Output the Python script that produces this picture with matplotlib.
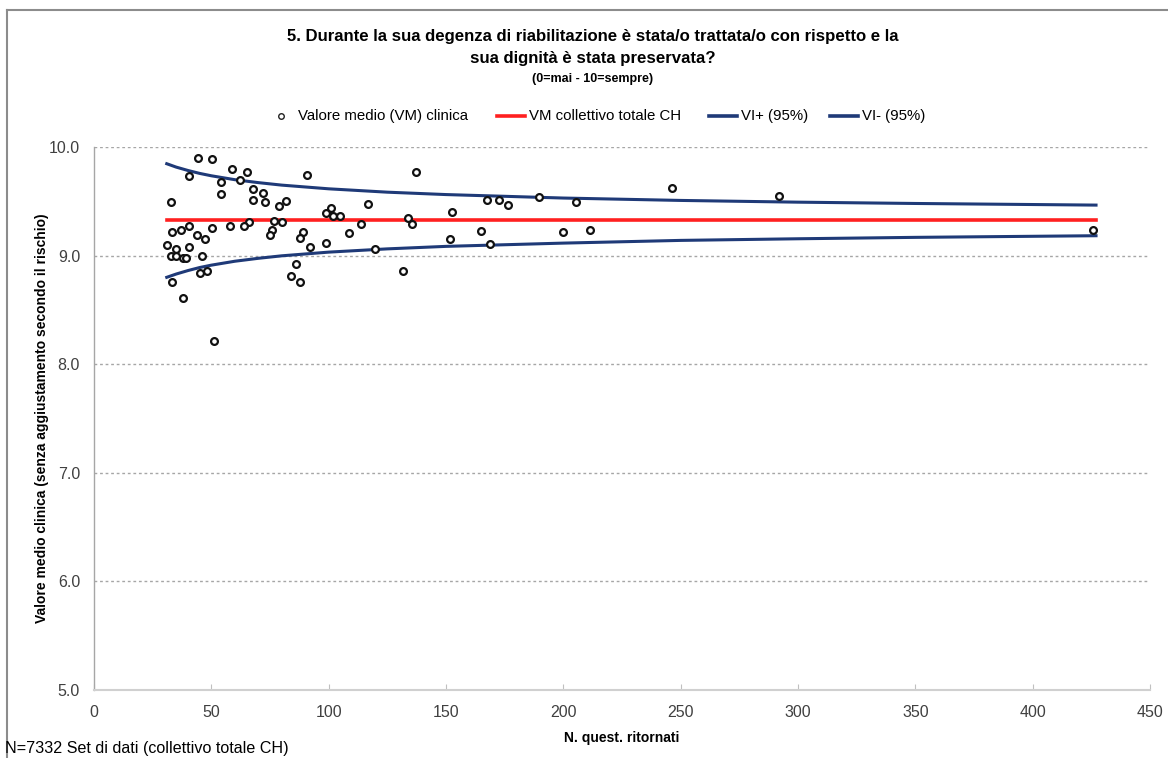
import matplotlib
matplotlib.use("Agg")
import matplotlib.pyplot as plt
from matplotlib.lines import Line2D

# ---- data ----
n_returned = [44.2, 50.1, 40.3, 58.8, 65.0, 54.0, 62.1, 67.9, 71.9, 54.0,
              32.9, 67.9, 72.9, 78.8, 81.9, 76.7, 80.1, 66.2, 64.0, 57.8,
              50.1, 40.3, 36.9, 33.1, 76.0, 75.0, 44.0, 47.2, 31.1, 40.3,
              35.1, 32.9, 35.1, 38.1, 39.3, 46.1, 45.2, 48.1, 33.1, 38.1,
              51.0, 90.9, 137.3, 88.9, 87.9, 91.9, 98.9, 101.0, 101.8, 104.8,
              99.0, 108.6, 113.6, 116.6, 119.9, 86.1, 83.9, 87.9, 131.7, 133.6,
              135.6, 152.5, 151.5, 167.6, 172.4, 176.4, 189.5, 205.5, 246.3, 292.0,
              164.8, 168.6, 199.7, 211.5, 425.7]
clinic_mean = [9.896, 9.887, 9.733, 9.80, 9.773, 9.68, 9.70, 9.614, 9.58, 9.565,
               9.49, 9.51, 9.497, 9.455, 9.503, 9.32, 9.31, 9.31, 9.27, 9.276,
               9.25, 9.27, 9.24, 9.22, 9.24, 9.19, 9.19, 9.15, 9.10, 9.08,
               9.06, 9.00, 9.00, 8.98, 8.98, 9.00, 8.84, 8.856, 8.76, 8.61,
               8.21, 9.745, 9.77, 9.22, 9.16, 9.08, 9.39, 9.44, 9.365, 9.365,
               9.12, 9.21, 9.294, 9.476, 9.06, 8.92, 8.81, 8.76, 8.856, 9.344,
               9.294, 9.405, 9.15, 9.515, 9.515, 9.47, 9.54, 9.497, 9.626, 9.546,
               9.227, 9.11, 9.22, 9.236, 9.236]

total_mean = 9.325
total_range = [31, 427]

band_n = [31, 35, 40, 45, 50, 60, 70, 80, 100, 125, 150, 200, 250, 300, 350, 427]
band_upper = [9.846, 9.815, 9.784, 9.757, 9.735, 9.699, 9.672, 9.649, 9.615, 9.584,
              9.562, 9.530, 9.508, 9.492, 9.480, 9.465]
band_lower = [8.800, 8.830, 8.862, 8.890, 8.912, 8.948, 8.975, 8.998, 9.032, 9.062,
              9.085, 9.115, 9.140, 9.155, 9.168, 9.183]

x_ticks = [0, 50, 100, 150, 200, 250, 300, 350, 400, 450]
y_ticks = [5.0, 6.0, 7.0, 8.0, 9.0, 10.0]

title_l1 = "5. Durante la sua degenza di riabilitazione è stata/o trattata/o con rispetto e la"
title_l2 = "sua dignità è stata preservata?"
title_l3 = "(0=mai - 10=sempre)"
legend_labels = ["Valore medio (VM) clinica", "VM collettivo totale CH", "VI+ (95%)", "VI- (95%)"]
x_label = "N. quest. ritornati"
y_label = "Valore medio clinica (senza aggiustamento secondo il rischio)"
footer = "N=7332 Set di dati (collettivo totale CH)"

# ---- style ----
FONT = ['Liberation Sans', 'DejaVu Sans']
plt.rcParams['font.family'] = FONT
TICK = '#404040'
NAVY = '#1f3a78'
RED = '#ff2020'

W, H = 1168, 758
fig = plt.figure(figsize=(W / 100, H / 100), dpi=100)
fig.patch.set_facecolor('white')

# outer border
fig.add_artist(Line2D([7 / W, 7 / W], [0, 1 - 10 / H], color='#8c8c8c', lw=1.5,
                      transform=fig.transFigure))
fig.add_artist(Line2D([7 / W, 1], [1 - 10 / H, 1 - 10 / H], color='#8c8c8c', lw=1.5,
                      transform=fig.transFigure))

ax = fig.add_axes([94 / W, 1 - 690 / H, (1150 - 94) / W, (690 - 147) / H])
ax.set_xlim(0, 450)
ax.set_ylim(5.0, 10.0)

for yv in y_ticks[1:]:
    ax.axhline(yv, color='#a6a6a6', lw=1.0, ls=(0, (2, 2)), zorder=1)

ax.plot(band_n, band_upper, color=NAVY, lw=2.2, zorder=3)
ax.plot(band_n, band_lower, color=NAVY, lw=2.2, zorder=3)
ax.plot(total_range, [total_mean, total_mean], color=RED, lw=2.6, zorder=3)
ax.scatter(n_returned, clinic_mean, s=24, facecolors='white', edgecolors='#111111',
           linewidths=1.6, zorder=4)

for s in ['top', 'right']:
    ax.spines[s].set_visible(False)
ax.spines['left'].set_color('#a6a6a6')
ax.spines['bottom'].set_color('#d0d0d0')
ax.spines['left'].set_linewidth(1.0)
ax.spines['bottom'].set_linewidth(1.5)

ax.set_xticks(x_ticks)
ax.set_xticklabels([str(v) for v in x_ticks])
ax.set_yticks(y_ticks)
ax.set_yticklabels([f"{v:.1f}" for v in y_ticks])
ax.tick_params(axis='x', direction='in', length=4, color='#c0c0c0', labelsize=11.5,
               labelcolor=TICK, pad=11)
ax.tick_params(axis='y', length=0, labelsize=11.5, labelcolor=TICK, pad=10)

ax.set_xlabel(x_label, fontsize=10, fontweight='bold', labelpad=8)
ax.set_ylabel(y_label, fontsize=10, fontweight='bold', labelpad=0)

# titles
fig.text(593 / W, 1 - 36 / H, title_l1, ha='center', va='center', fontsize=12.1,
         fontweight='bold')
fig.text(593 / W, 1 - 59 / H, title_l2, ha='center', va='center', fontsize=12.1,
         fontweight='bold')
fig.text(593 / W, 1 - 79 / H, title_l3, ha='center', va='center', fontsize=9,
         fontweight='bold')

# legend (manual placement to match)
ly = 1 - 116 / H
fig.add_artist(Line2D([281 / W], [ly], marker='o', ms=4, mfc='white', mec='#222222',
                      mew=1.0, transform=fig.transFigure))
fig.text(298 / W, ly, legend_labels[0], ha='left', va='center', fontsize=10.8)
fig.add_artist(Line2D([497 / W, 525 / W], [ly, ly], color=RED, lw=2.6,
                      transform=fig.transFigure))
fig.text(529 / W, ly, legend_labels[1], ha='left', va='center', fontsize=10.8)
fig.add_artist(Line2D([709 / W, 737 / W], [ly, ly], color=NAVY, lw=2.6,
                      transform=fig.transFigure))
fig.text(741 / W, ly, legend_labels[2], ha='left', va='center', fontsize=10.8)
fig.add_artist(Line2D([830 / W, 858 / W], [ly, ly], color=NAVY, lw=2.6,
                      transform=fig.transFigure))
fig.text(862 / W, ly, legend_labels[3], ha='left', va='center', fontsize=10.8)

fig.text(5 / W, 1 - 749 / H, footer, ha='left', va='center', fontsize=11.6)

fig.savefig('out.png', dpi=100)
